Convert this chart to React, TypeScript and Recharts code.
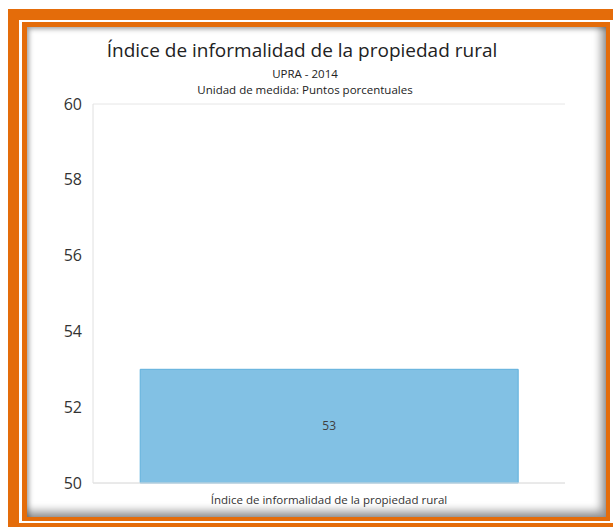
import React from 'react';
import { BarChart, Bar, XAxis, YAxis, CartesianGrid, LabelList } from 'recharts';

const categories = ['Índice de informalidad de la propiedad rural'];
const values = [53];
const yTicks = [50, 52, 54, 56, 58, 60];

const ORANGE = '#e46c0a';
const FONT = '"Open Sans", "Noto Sans", sans-serif';

const data = categories.map((name, i) => ({ name, value: values[i] }));

export default function App() {
  return (
    <div style={{ position: 'fixed', left: 0, top: 0, width: 613, height: 527, overflow: 'hidden', background: '#fff', fontFamily: FONT }}>
      <div style={{ position: 'absolute', left: 8, top: 9, width: 640, height: 525, boxSizing: 'border-box', border: `11px solid ${ORANGE}` }} />
      <div
        style={{
          position: 'absolute', left: 22, top: 22, width: 588, height: 499, boxSizing: 'border-box',
          border: `5px solid ${ORANGE}`, borderRightWidth: 4, borderBottomWidth: 4, background: '#fff',
          boxShadow: 'inset 2px 2px 5px rgba(0,0,0,0.35), inset -5px -6px 9px rgba(0,0,0,0.4)',
        }}
      />
      <div style={{ position: 'absolute', left: 0, width: 604, top: 37, textAlign: 'center', fontSize: 19, color: '#222', lineHeight: '26px' }}>
        Índice de informalidad de la propiedad rural
      </div>
      <div style={{ position: 'absolute', left: 0, width: 610, top: 66, textAlign: 'center', fontSize: 11.5, color: '#222', lineHeight: '16px' }}>
        UPRA - 2014
      </div>
      <div style={{ position: 'absolute', left: 0, width: 610, top: 82, textAlign: 'center', fontSize: 11.5, color: '#222', lineHeight: '16px' }}>
        Unidad de medida: Puntos porcentuales
      </div>
      <div style={{ position: 'absolute', left: 0, top: 0 }}>
        <BarChart width={613} height={527} data={data} margin={{ top: 104, right: 48, left: 33, bottom: 14 }} barCategoryGap="10%">
          <CartesianGrid horizontal vertical={false} stroke="#e6e6e6" />
          <XAxis
            dataKey="name"
            height={30}
            axisLine={{ stroke: '#e0e0e0' }}
            tickLine={false}
            tickSize={0}
            tickMargin={13}
            tick={{ fill: '#333', fontSize: 11.5, fontFamily: FONT }}
          />
          <YAxis
            yAxisId="l"
            domain={[50, 60]}
            ticks={yTicks}
            width={60}
            axisLine={{ stroke: '#e0e0e0' }}
            tickLine={false}
            tickSize={0}
            tickMargin={11}
            tick={{ fill: '#333', fontSize: 16, fontFamily: FONT }}
          />
          <YAxis yAxisId="r" orientation="right" domain={[50, 60]} width={0} tick={false} tickLine={false} axisLine={{ stroke: '#e0e0e0' }} />
          <Bar yAxisId="l" dataKey="value" fill="#4da6d9" fillOpacity={0.7} stroke="#5fb0dd" strokeWidth={1} isAnimationActive={false}>
            <LabelList dataKey="value" position="center" fill="#404040" fontSize={12} fontFamily={FONT} />
          </Bar>
        </BarChart>
      </div>
    </div>
  );
}
